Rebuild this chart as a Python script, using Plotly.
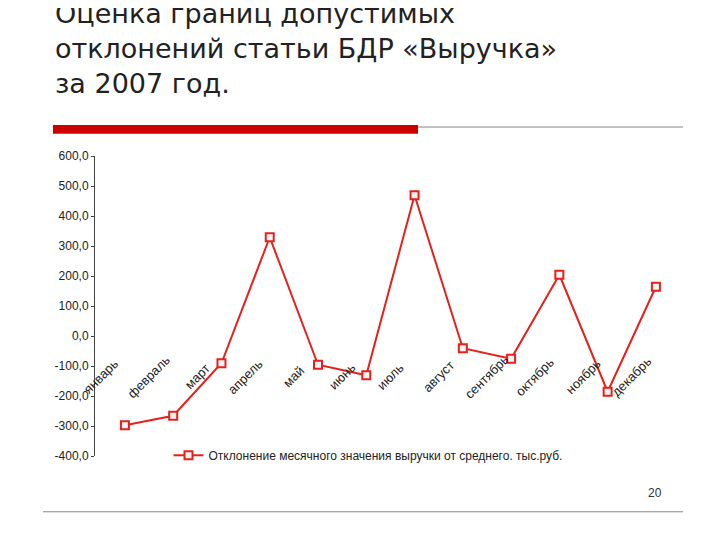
import plotly.graph_objects as go

months = ["январь","февраль","март","апрель","май","июнь","июль","август","сентябрь","октябрь","ноябрь","декабрь"]
values = [-297,-265,-90,330,-95,-130,470,-40,-75,205,-185,165]
yticks = [600,500,400,300,200,100,0,-100,-200,-300,-400]
ytext = ["600,0","500,0","400,0","300,0","200,0","100,0","0,0","-100,0","-200,0","-300,0","-400,0"]
series_name = "Отклонение месячного значения выручки от среднего. тыс.руб."

W, H = 720, 540
def px(x): return x / W
def py(y): return 1 - y / H

fig = go.Figure()
fig.add_trace(go.Scatter(
    x=list(range(len(months))), y=values, mode="lines+markers", name=series_name,
    line=dict(color="#e8201c", width=2),
    marker=dict(symbol="square", size=8, color="#f4f4f4", line=dict(color="#e8201c", width=2)),
))
for i, m in enumerate(months):
    fig.add_annotation(x=i - 0.5, y=-135, text=m, showarrow=False, textangle=-45,
                       font=dict(family="Liberation Sans, Arial", size=13, color="#222"))

fig.add_annotation(x=px(45), y=py(-20), xref="paper", yref="paper", xanchor="left", yanchor="top",
                   align="left", showarrow=False,
                   text="Оценка границ допустимых<br>отклонений статьи БДР «Выручка»<br>за 2007 год.",
                   font=dict(family="DejaVu Sans", size=27, color="#222"))
fig.add_annotation(x=px(656), y=py(500), xref="paper", yref="paper", showarrow=False,
                   text="20", font=dict(family="Liberation Sans, Arial", size=12, color="#333"))
fig.add_shape(type="rect", xref="paper", yref="paper", x0=px(45), x1=px(410), y0=py(122), y1=py(113),
              fillcolor="#cc0000", line=dict(width=0))
fig.add_shape(type="line", xref="paper", yref="paper", x0=px(410), x1=px(675), y0=py(115), y1=py(115),
              line=dict(color="#888", width=1))
fig.add_shape(type="line", xref="paper", yref="paper", x0=px(35), x1=px(675), y0=py(510), y1=py(510),
              line=dict(color="#888", width=1))

fig.update_layout(
    width=W, height=H, margin=dict(l=0, r=0, t=0, b=0),
    paper_bgcolor="white", plot_bgcolor="white",
    font=dict(family="Liberation Sans, Arial", size=12, color="#222"),
    xaxis=dict(domain=[px(87), px(673)], range=[-0.62, 11.52], showticklabels=False,
               showgrid=False, zeroline=False, showline=False),
    yaxis=dict(domain=[87/H, 395/H], range=[-400, 600], tickvals=yticks, ticktext=ytext,
               showgrid=False, zeroline=False, showline=True, linecolor="#444", linewidth=1,
               ticks="outside", ticklen=3),
    showlegend=True,
    legend=dict(x=0.5, xanchor="center", y=py(452), yanchor="middle", bgcolor="rgba(0,0,0,0)",
                font=dict(size=12)),
)
fig.write_html("out.html")
